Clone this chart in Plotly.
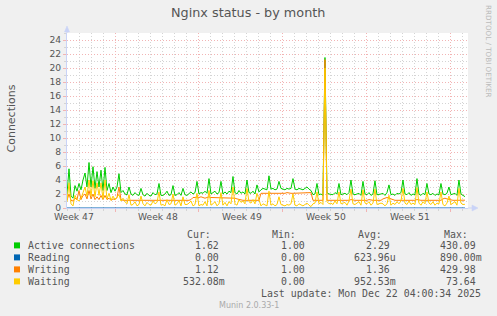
import plotly.graph_objects as go

# ---------------- data ----------------
title = "Nginx status - by month"
y_title = "Connections"
week_labels = ["Week 47", "Week 48", "Week 49", "Week 50", "Week 51"]
week_label_days = [0.6, 7.6, 14.6, 21.6, 28.6]
week_start_days = [4, 11, 18, 25, 32]
day_ticks = list(range(0, 34))
y_ticks = [0, 2, 4, 6, 8, 10, 12, 14, 16, 18, 20, 22, 24]
y_minor_ticks = list(range(0, 26))

series_names = ["Active connections", "Reading", "Writing", "Waiting"]
series_colors = ["#00CC00", "#0066B3", "#FF8000", "#FFCC00"]
cur_vals = ["1.62", "0.00", "1.12", "532.08m"]
min_vals = ["1.00", "0.00", "1.00", "0.00"]
avg_vals = ["2.29", "623.96u", "1.36", "952.53m"]
max_vals = ["430.09", "890.00m", "429.98", "73.64"]
last_update = "Last update: Mon Dec 22 04:00:34 2025"
version = "Munin 2.0.33-1"
watermark = "RRDTOOL / TOBI OETIKER"

samples_per_day = 6  # one value every 4 hours

active_by_day = [
    [2.0, 5.6, 1.7, 1.4, 3.2, 2.4],
    [3.5, 2.6, 4.0, 5.0, 3.0, 6.5],
    [3.0, 5.9, 2.8, 5.2, 3.0, 5.4],
    [2.5, 5.8, 2.5, 3.5, 2.2, 3.0],
    [2.4, 3.0, 4.9, 2.2, 2.5, 2.0],
    [1.9, 3.0, 2.0, 1.8, 2.2, 1.9],
    [1.8, 2.8, 1.9, 1.7, 2.1, 1.8],
    [1.7, 2.2, 1.9, 2.0, 3.5, 1.8],
    [1.8, 2.0, 2.4, 1.8, 1.9, 3.2],
    [1.8, 1.9, 2.2, 1.8, 2.8, 1.9],
    [1.8, 2.0, 2.3, 2.0, 2.2, 3.8],
    [2.0, 2.2, 2.1, 2.4, 2.1, 4.2],
    [2.0, 2.2, 2.4, 2.0, 2.2, 3.8],
    [2.0, 2.3, 2.0, 2.4, 2.2, 4.5],
    [2.2, 2.0, 2.5, 2.1, 2.3, 2.0],
    [4.0, 2.2, 2.1, 2.4, 2.0, 3.3],
    [2.3, 2.6, 2.8, 2.7, 2.6, 4.6],
    [2.7, 2.8, 2.6, 2.7, 3.8, 2.8],
    [2.7, 2.6, 2.8, 2.7, 2.8, 4.2],
    [2.7, 2.6, 2.8, 2.7, 2.6, 2.8],
    [3.0, 2.7, 2.5, 1.9, 2.0, 3.5],
    [1.9, 2.0, 1.8, 21.5, 2.2, 2.0],
    [2.0, 1.9, 2.2, 2.0, 3.5, 1.9],
    [2.0, 2.1, 1.9, 2.2, 4.0, 2.0],
    [1.9, 2.0, 2.1, 1.8, 3.8, 2.0],
    [1.9, 2.2, 1.8, 2.0, 3.9, 1.9],
    [1.9, 2.0, 2.1, 1.8, 2.2, 3.3],
    [1.9, 2.0, 1.8, 2.1, 2.0, 2.2],
    [4.0, 2.0, 1.9, 2.2, 1.8, 2.0],
    [1.9, 4.2, 2.0, 1.8, 2.1, 1.9],
    [3.5, 2.0, 1.9, 2.1, 1.8, 2.0],
    [1.9, 3.5, 2.0, 1.9, 2.1, 3.0],
    [1.9, 2.0, 2.1, 1.8, 4.0, 2.0],
    [1.8, 1.62],
]

writing_by_day = [
    [1.1, 2.0, 1.1, 1.0, 1.4, 1.2],
    [2.5, 1.2, 1.8, 2.0, 1.3, 2.5],
    [1.3, 2.0, 1.2, 1.6, 1.2, 1.8],
    [1.2, 1.8, 1.2, 1.4, 1.1, 1.3],
    [1.2, 1.5, 3.0, 1.2, 1.1, 1.1],
    [1.1, 1.1, 1.0, 1.1, 1.1, 1.0],
    [1.1, 1.0, 1.1, 1.0, 1.1, 1.1],
    [1.0, 1.1, 1.1, 1.0, 1.1, 1.1],
    [1.1, 1.0, 1.1, 1.1, 1.0, 1.1],
    [1.1, 1.1, 1.0, 1.1, 1.1, 1.1],
    [1.1, 1.1, 1.2, 1.5, 1.5, 1.6],
    [1.5, 1.6, 1.5, 1.4, 1.5, 1.6],
    [1.5, 1.5, 1.4, 1.4, 1.4, 1.5],
    [1.4, 1.4, 1.5, 1.4, 1.4, 1.4],
    [1.4, 1.3, 1.2, 1.1, 1.1, 1.1],
    [1.1, 1.1, 1.1, 1.1, 1.1, 1.1],
    [1.1, 2.1, 2.1, 2.1, 2.1, 2.1],
    [2.1, 2.1, 2.1, 2.0, 2.1, 2.1],
    [2.1, 2.1, 2.2, 2.1, 2.1, 2.1],
    [2.1, 2.1, 2.1, 2.1, 2.1, 2.2],
    [2.2, 2.1, 2.2, 1.1, 1.1, 1.1],
    [1.1, 1.0, 1.1, 21.2, 1.1, 1.1],
    [1.1, 1.1, 1.1, 1.1, 1.1, 1.0],
    [1.1, 1.1, 1.0, 1.1, 1.2, 1.1],
    [1.1, 1.1, 1.1, 1.0, 1.1, 1.1],
    [1.1, 1.2, 1.1, 1.1, 1.1, 1.1],
    [1.1, 1.1, 1.3, 1.4, 1.5, 1.4],
    [1.3, 1.1, 1.1, 1.1, 1.1, 1.1],
    [1.1, 1.1, 1.1, 1.1, 1.0, 1.1],
    [1.1, 1.2, 1.1, 1.1, 1.1, 1.1],
    [1.1, 1.1, 1.1, 1.1, 1.1, 1.1],
    [1.1, 1.1, 1.3, 1.4, 1.3, 1.2],
    [1.1, 1.1, 1.1, 1.1, 1.1, 1.1],
    [1.1, 1.12],
]

waiting_by_day = [
    [0.9, 3.6, 0.6, 0.3, 1.8, 1.2],
    [1.0, 1.4, 2.2, 3.0, 1.7, 4.0],
    [1.7, 3.9, 1.6, 3.6, 1.8, 3.6],
    [1.3, 4.0, 1.3, 2.1, 1.1, 1.7],
    [1.2, 1.5, 1.9, 1.0, 1.4, 0.9],
    [0.6, 1.9, 0.4, 0.5, 0.9, 0.3],
    [0.5, 1.7, 0.6, 0.3, 0.8, 0.5],
    [0.4, 1.0, 0.6, 0.8, 2.3, 0.4],
    [0.5, 0.3, 1.2, 0.5, 0.6, 2.0],
    [0.4, 0.6, 1.1, 0.3, 1.6, 0.5],
    [0.5, 0.7, 1.0, 0.3, 0.5, 2.1],
    [0.3, 0.5, 0.4, 0.9, 0.3, 2.5],
    [0.4, 0.6, 0.9, 0.3, 0.6, 2.2],
    [0.4, 0.8, 0.3, 0.9, 0.6, 3.0],
    [0.6, 0.4, 1.2, 0.8, 1.0, 0.6],
    [2.8, 0.9, 0.7, 1.2, 0.6, 2.1],
    [1.0, 0.3, 0.6, 0.4, 0.3, 2.4],
    [0.4, 0.6, 0.3, 0.5, 1.6, 0.5],
    [0.4, 0.3, 0.5, 0.4, 0.6, 2.0],
    [0.4, 0.3, 0.6, 0.4, 0.3, 0.5],
    [0.7, 0.4, 0.2, 0.6, 0.7, 2.3],
    [0.6, 0.8, 0.5, 20.0, 0.9, 0.6],
    [0.7, 0.5, 1.0, 0.6, 2.3, 0.6],
    [0.7, 0.8, 0.4, 1.0, 2.7, 0.6],
    [0.5, 0.7, 0.9, 0.4, 2.6, 0.7],
    [0.6, 0.9, 0.4, 0.7, 2.7, 0.5],
    [0.6, 0.7, 0.6, 0.3, 0.6, 1.8],
    [0.4, 0.7, 0.5, 0.9, 0.6, 1.0],
    [2.8, 0.7, 0.5, 1.0, 0.5, 0.7],
    [0.5, 2.9, 0.7, 0.4, 0.9, 0.6],
    [2.3, 0.7, 0.5, 0.9, 0.4, 0.7],
    [0.6, 2.3, 0.5, 0.3, 0.7, 1.7],
    [0.5, 0.7, 0.9, 0.4, 2.8, 0.7],
    [0.5, 0.53],
]

active = [v for day in active_by_day for v in day]
writing = [v for day in writing_by_day for v in day]
waiting = [v for day in waiting_by_day for v in day]
reading = [0.0] * len(active)
x_days = [i / samples_per_day for i in range(len(active))]

# ---------------- layout geometry (pixels) ----------------
W, H = 497, 316
L, R, T, B = 67, 468, 33, 208
X_RANGE = [0, 33.42]
Y_RANGE = [0, 25]


def px(x):
    return (x - L) / (R - L)


def py(y):
    return (B - y) / (B - T)


FONT = "DejaVu Sans"
MONO = "DejaVu Sans Mono"
TXT = "#555555"
AXIS = "#C9D3F7"
MGRID = "#F2B4B4"
GRID = "#D4D4D4"

fig = go.Figure()
for name, color, vals in zip(series_names, series_colors, [active, reading, writing, waiting]):
    is_reading = name == "Reading"
    fig.add_trace(go.Scatter(
        x=x_days, y=vals, mode="lines", name=name,
        line=dict(color=color, width=2 if is_reading else 1),
        opacity=0.5 if is_reading else 1.0,
        showlegend=False, hoverinfo="skip",
    ))

fig.update_xaxes(
    range=X_RANGE, tickmode="array", tickvals=week_start_days, showticklabels=False,
    showgrid=True, gridcolor=MGRID, griddash="1px,2px", gridwidth=1,
    ticks="outside", ticklen=3, tickcolor=MGRID,
    minor=dict(tickmode="array", tickvals=day_ticks, showgrid=True, gridcolor=GRID,
               griddash="1px,2px", ticks="outside", ticklen=2, tickcolor=GRID),
    showline=True, linecolor=AXIS, linewidth=1, zeroline=False, fixedrange=True,
)
fig.update_yaxes(
    range=Y_RANGE, tickmode="array", tickvals=y_ticks, ticktext=[str(v) for v in y_ticks],
    tickfont=dict(family=FONT, size=9.2, color=TXT),
    showgrid=True, gridcolor=MGRID, griddash="1px,2px", gridwidth=1,
    ticks="outside", ticklen=3, tickcolor=MGRID,
    minor=dict(tickmode="array", tickvals=y_minor_ticks, showgrid=True, gridcolor=GRID,
               griddash="1px,2px", ticks="outside", ticklen=2, tickcolor=GRID),
    showline=True, linecolor=AXIS, linewidth=1, zeroline=False, fixedrange=True,
)

shapes = [
    # x axis arrow
    dict(type="line", xref="paper", yref="paper", x0=1, x1=px(474), y0=0, y1=0,
         line=dict(color=AXIS, width=1)),
    dict(type="path", xref="paper", yref="paper",
         path=f"M {px(472)},{py(205)} L {px(478)},{py(208)} L {px(472)},{py(211)} Z",
         fillcolor=AXIS, line=dict(color=AXIS, width=0.5)),
    # y axis arrow
    dict(type="line", xref="paper", yref="paper", x0=0, x1=0, y0=1, y1=py(30),
         line=dict(color=AXIS, width=1)),
    dict(type="path", xref="paper", yref="paper",
         path=f"M {px(64.5)},{py(32)} L {px(67)},{py(26)} L {px(69.5)},{py(32)} Z",
         fillcolor=AXIS, line=dict(color=AXIS, width=0.5)),
]

annotations = [
    dict(text=title, x=px(248), y=py(13), font=dict(family=FONT, size=12.8, color=TXT)),
    dict(text=y_title, x=px(10.5), y=py(119), textangle=-90, font=dict(family=FONT, size=11, color=TXT)),
    dict(text=watermark, x=px(488.5), y=py(51.5), textangle=90, font=dict(family=FONT, size=7.2, color="#BBBBBB")),
    dict(text=version, x=px(248.5), y=py(305.3), font=dict(family=FONT, size=8, color="#AAAAAA")),
    dict(text=last_update, x=px(482.8), y=py(293.3), xanchor="right", font=dict(family=MONO, size=9.9, color=TXT)),
]
for lab, d in zip(week_labels, week_label_days):
    annotations.append(dict(text=lab, x=d, xref="x", y=py(216.5), font=dict(family=FONT, size=9.2, color=TXT)))

header_y = 234
for hdr, xr in zip(["Cur:", "Min:", "Avg:", "Max:"], [212.8, 298.2, 383.8, 469.8]):
    annotations.append(dict(text=hdr, x=px(xr), y=py(header_y), xanchor="right",
                            font=dict(family=MONO, size=9.9, color=TXT)))

row_ys = [245.4, 257.4, 269.4, 281.4]
col_rights = [226.5, 312.5, 398.0, 483.5]
for i, (name, color) in enumerate(zip(series_names, series_colors)):
    yy = row_ys[i]
    shapes.append(dict(type="rect", xref="paper", yref="paper",
                       x0=px(14), x1=px(20), y0=py(yy + 3), y1=py(yy - 3),
                       fillcolor=color, line=dict(width=0)))
    annotations.append(dict(text=name, x=px(25.7), y=py(yy), xanchor="left",
                            font=dict(family=MONO, size=9.9, color=TXT)))
    for vals, xr in zip([cur_vals, min_vals, avg_vals, max_vals], col_rights):
        v = vals[i]
        if not v[-1].isalpha():
            v = v + "\u00a0"
        annotations.append(dict(text=v, x=px(xr), y=py(yy), xanchor="right",
                                font=dict(family=MONO, size=9.9, color=TXT)))

for a in annotations:
    a.setdefault("xref", "paper")
    a.setdefault("yref", "paper")
    a.setdefault("showarrow", False)
    a.setdefault("xanchor", "center")
    a.setdefault("yanchor", "middle")

fig.update_layout(
    width=W, height=H,
    margin=dict(l=L, r=W - R, t=T, b=H - B, pad=0),
    paper_bgcolor="#F0F0F0", plot_bgcolor="#FFFFFF",
    showlegend=False,
    shapes=shapes, annotations=annotations,
    font=dict(family=FONT, color=TXT),
)

fig.write_html("out.html", config=dict(displayModeBar=False, staticPlot=True))
